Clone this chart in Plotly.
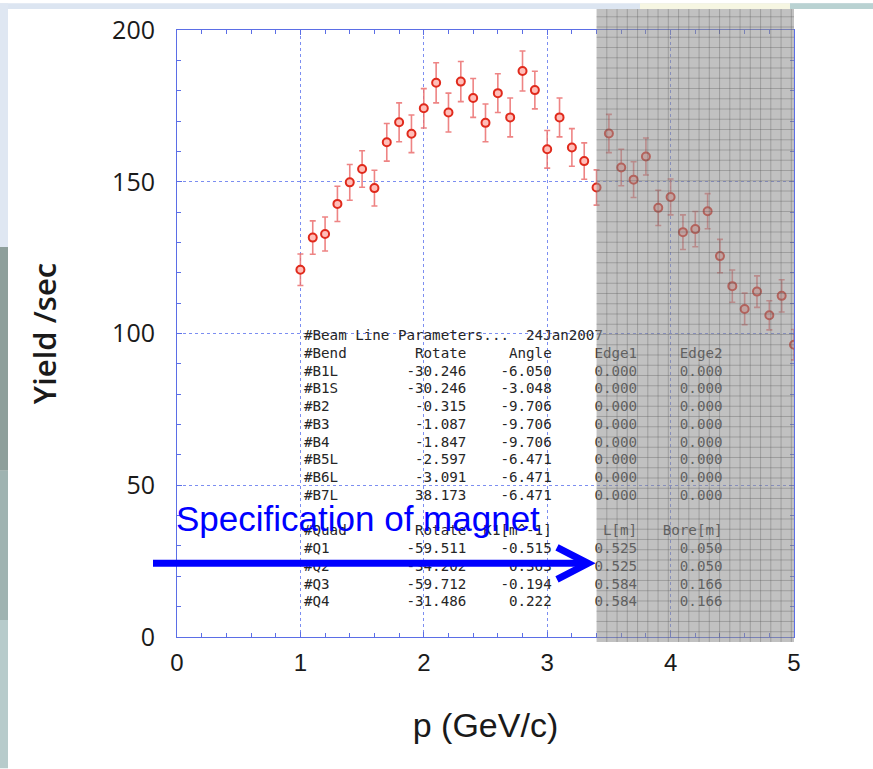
import numpy as np
import plotly.graph_objects as go

# ---------------- data ----------------
p_gev = [1.0, 1.1, 1.2, 1.3, 1.4, 1.5, 1.6, 1.7, 1.8, 1.9,
         2.0, 2.1, 2.2, 2.3, 2.4, 2.5, 2.6, 2.7, 2.8, 2.9,
         3.0, 3.1, 3.2, 3.3, 3.4, 3.5, 3.6, 3.7, 3.8, 3.9,
         4.0, 4.1, 4.2, 4.3, 4.4, 4.5, 4.6, 4.7, 4.8, 4.9, 5.0]
yield_sec = [121.0, 131.6, 132.8, 142.7, 149.8, 154.2, 147.9, 163.0, 169.6, 165.8,
             174.2, 182.6, 172.8, 183.0, 177.6, 169.4, 179.2, 171.2, 186.5, 180.2,
             160.7, 171.2, 161.3, 156.8, 148.1, 165.9, 154.7, 150.7, 158.3, 141.4,
             145.0, 133.4, 134.4, 140.3, 125.5, 115.6, 108.1, 113.8, 106.0, 112.4, 96.3]
yield_err = [5.2, 5.5, 5.6, 5.8, 5.9, 6.0, 5.9, 6.2, 6.4, 6.2,
             6.5, 6.6, 6.4, 6.6, 6.4, 6.2, 6.4, 6.4, 6.6, 6.2,
             6.2, 6.4, 6.2, 6.0, 5.8, 6.3, 6.0, 5.9, 6.1, 5.8,
             5.9, 5.7, 5.8, 5.8, 5.5, 5.3, 5.2, 5.2, 4.8, 5.3, 5.0]

x_ticks = [0, 1, 2, 3, 4, 5]
y_ticks = [0, 50, 100, 150, 200]

table_title = "#Beam Line Parameters...  24Jan2007"
bend_header = ["#Bend", "Rotate", "Angle", "Edge1", "Edge2"]
bend_names = ["#B1L", "#B1S", "#B2", "#B3", "#B4", "#B5L", "#B6L", "#B7L"]
bend_rotate = [-30.246, -30.246, -0.315, -1.087, -1.847, -2.597, -3.091, 38.173]
bend_angle = [-6.050, -3.048, -9.706, -9.706, -9.706, -6.471, -6.471, -6.471]
bend_edge1 = [0.000] * 8
bend_edge2 = [0.000] * 8
quad_header = ["#Quad", "Rotate", "K1[m^-1]", "L[m]", "Bore[m]"]
quad_names = ["#Q1", "#Q2", "#Q3", "#Q4"]
quad_rotate = [-59.511, -34.202, -59.712, -31.486]
quad_k1 = [-0.515, 0.363, -0.194, 0.222]
quad_L = [0.525, 0.525, 0.584, 0.584]
quad_bore = [0.050, 0.050, 0.166, 0.166]

shaded_from = 3.4
annot_text = "Specification of magnet"

# ---------------- geometry helpers ----------------
W, H = 873, 769
ML, MR, MT, MB = 177, 79, 27, 132
PW, PH = W - ML - MR, H - MT - MB
X0, X1, Y0, Y1 = 0, 5, 0, 200


def px2paper(px, py):
    return (px - ML) / PW, (H - MB - py) / PH


def py2data(py):
    return Y0 + (H - MB - py) / PH * (Y1 - Y0)


def px2data(px):
    return X0 + (px - ML) / PW * (X1 - X0)


# ---------------- table lines ----------------
def col(s, width, right=True):
    return s.rjust(width) if right else s.ljust(width)


lines = [table_title]
lines.append(col(bend_header[0], 13, False) + col(bend_header[1], 6) + col(bend_header[2], 10)
             + "     " + col(bend_header[3], 10, False) + bend_header[4])
for n, r, a, e1, e2 in zip(bend_names, bend_rotate, bend_angle, bend_edge1, bend_edge2):
    lines.append(col(n, 12, False) + col(f"{r:.3f}", 7) + col(f"{a:.3f}", 10)
                 + "     " + col(f"{e1:.3f}", 10, False) + f"{e2:.3f}")
lines.append("")
lines.append(col(quad_header[0], 13, False) + col(quad_header[1], 6) + col(quad_header[2], 10)
             + "      " + col(quad_header[3], 7, False) + quad_header[4])
for n, r, k, L, b in zip(quad_names, quad_rotate, quad_k1, quad_L, quad_bore):
    lines.append(col(n, 12, False) + col(f"{r:.3f}", 7) + col(f"{k:.3f}", 10)
                 + "     " + col(f"{L:.3f}", 10, False) + f"{b:.3f}")
lines = [ln.replace(" ", "\u00a0") for ln in lines]

row_top_px, row_step_px = 335, 17.85
table_y = [py2data(row_top_px + i * row_step_px) for i in range(len(lines))]
table_x = [px2data(304)] * len(lines)

fig = go.Figure()

fig.add_trace(go.Scatter(
    x=table_x, y=table_y, text=lines, mode="text",
    textposition="middle right",
    textfont=dict(family="DejaVu Sans Mono", size=14.2, color="#262626"),
    hoverinfo="skip", showlegend=False, cliponaxis=False,
))

fig.add_trace(go.Scatter(
    x=p_gev, y=yield_sec, mode="markers",
    error_y=dict(type="data", array=yield_err, color="rgba(235,110,110,0.85)",
                 thickness=1.6, width=3),
    marker=dict(symbol="circle", size=8, color="rgba(255,190,185,1)",
                line=dict(color="#e02a1c", width=2)),
    showlegend=False,
))

blue = "#5b6ee6"
grid_blue = "rgba(110,130,240,0.9)"

shapes = []
# shaded overlay
sx0 = (shaded_from - X0) / (X1 - X0)
_, sy1 = px2paper(0, 6)
_, sy0 = px2paper(0, 642)
shapes.append(dict(type="rect", xref="paper", yref="paper", x0=sx0, x1=1.0, y0=sy0, y1=sy1,
                   fillcolor="rgba(145,145,145,0.56)", line=dict(width=0), layer="above"))
cell_x = 10.25 / PW
cell_y = 10.3 / PH
grid_gray = "rgba(85,85,85,0.32)"
for gx in np.arange(sx0 + cell_x, 1.0, cell_x):
    shapes.append(dict(type="line", xref="paper", yref="paper", x0=gx, x1=gx, y0=sy0, y1=sy1,
                       line=dict(color=grid_gray, width=1), layer="above"))
for gy in np.arange(sy0 + cell_y, sy1, cell_y):
    shapes.append(dict(type="line", xref="paper", yref="paper", x0=sx0, x1=1.0, y0=gy, y1=gy,
                       line=dict(color=grid_gray, width=1), layer="above"))


# slide decoration (left and top strips)
def strip(x0, x1, y0, y1, color):
    a = px2paper(x0, y0)
    b = px2paper(x1, y1)
    return dict(type="rect", xref="paper", yref="paper", x0=a[0], x1=b[0], y0=b[1], y1=a[1],
                fillcolor=color, line=dict(width=0), layer="below")


shapes += [
    strip(0, 873, 0, 6, "#dce5f1"),
    strip(640, 790, 0, 6, "#f6f6e2"),
    strip(790, 873, 0, 6, "#b9d2d2"),
    strip(0, 8, 0, 245, "#dfe7f2"),
    strip(0, 8, 245, 470, "#8e9f9b"),
    strip(0, 8, 470, 620, "#9fb3b1"),
    strip(0, 8, 620, 769, "#b7cbcb"),
]

# arrow
ax0, ay = px2paper(153, 563)
ax1, _ = px2paper(584, 563)
shapes.append(dict(type="line", xref="paper", yref="paper", x0=ax0, x1=ax1, y0=ay, y1=ay,
                   line=dict(color="#0000ff", width=7), layer="above"))
c1 = px2paper(557, 547)
c2 = px2paper(588, 563)
c3 = px2paper(557, 579)
shapes.append(dict(type="path", xref="paper", yref="paper",
                   path=f"M{c1[0]},{c1[1]} L{c2[0]},{c2[1]} L{c3[0]},{c3[1]}",
                   line=dict(color="#0000ff", width=7), layer="above"))

tx, ty = px2paper(174, 518)
annotations = [dict(
    text=annot_text, xref="paper", yref="paper", x=tx, y=ty,
    xanchor="left", yanchor="middle", showarrow=False,
    font=dict(family="Liberation Sans", size=35, color="#0000ff"),
)]

fig.update_layout(
    width=W, height=H,
    margin=dict(l=ML, r=MR, t=MT, b=MB, pad=0),
    paper_bgcolor="white", plot_bgcolor="white",
    shapes=shapes, annotations=annotations,
    xaxis=dict(
        range=[X0, X1], tickvals=x_ticks, ticktext=[str(v) for v in x_ticks],
        showline=True, linecolor=blue, linewidth=1, mirror="ticks",
        ticks="inside", ticklen=5, tickcolor=blue,
        minor=dict(ticks="inside", ticklen=4, dtick=0.2, tickcolor=blue, showgrid=False),
        showgrid=True, gridcolor=grid_blue, griddash="dot", gridwidth=1,
        zeroline=False, ticklabelstandoff=4,
        tickfont=dict(family="Liberation Sans", size=24, color="#1a1a1a"),
        title=dict(text="p (GeV/c)", standoff=38,
                   font=dict(family="Liberation Sans", size=34, color="#1a1a1a")),
    ),
    yaxis=dict(
        range=[Y0, Y1], tickvals=y_ticks, ticktext=[str(v) for v in y_ticks],
        showline=True, linecolor=blue, linewidth=1, mirror="ticks",
        ticks="inside", ticklen=5, tickcolor=blue,
        minor=dict(ticks="inside", ticklen=4, dtick=10, tickcolor=blue, showgrid=False),
        showgrid=True, gridcolor=grid_blue, griddash="dot", gridwidth=1,
        zeroline=False, ticklabelstandoff=16,
        tickfont=dict(family="Open Sans", size=25, color="#1a1a1a"),
        title=dict(text="Yield /sec", standoff=46,
                   font=dict(family="Open Sans", size=31, color="#1a1a1a", weight=600)),
    ),
)

fig.write_html("out.html")
